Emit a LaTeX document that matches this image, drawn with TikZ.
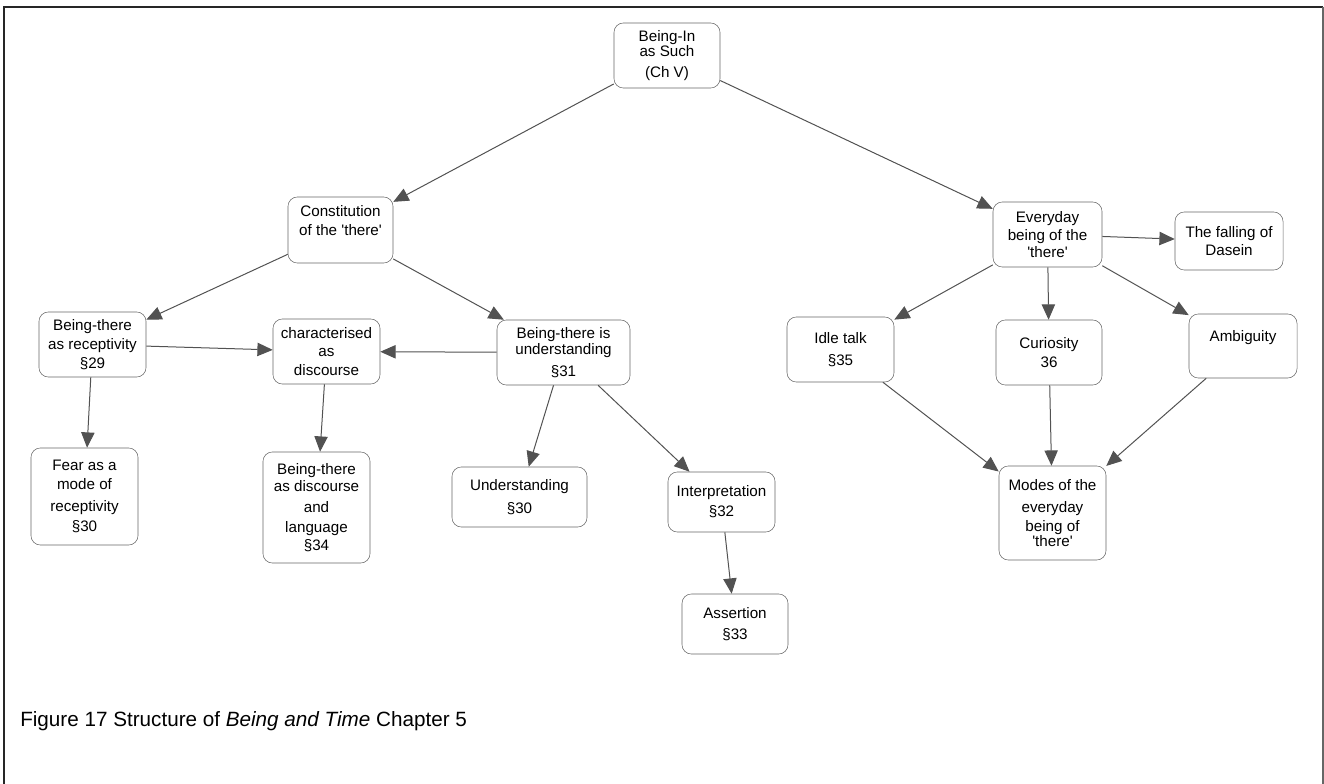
\documentclass[tikz,border=0pt]{standalone}
\usepackage{fontspec}
\setmainfont{Liberation Sans}
\usetikzlibrary{arrows.meta,positioning}
\newcommand{\apo}{\textquotesingle}
\tikzset{
  box/.style={draw=black!60,rounded corners=7pt,align=center,inner sep=0pt,
    minimum width=80.25pt,minimum height=48.75pt,font=\fontsize{11.4}{14.5}\selectfont},
  arr/.style={draw=black!68,line width=0.75pt,-{Triangle[length=11.5pt,width=10pt]}},
}

\begin{document}
\begin{tikzpicture}[x=0.75pt,y=-0.75pt]
  \useasboundingbox (0,0) rectangle (1324,784);
  \draw[line width=1.5pt,black!85] (4,790) -- (4,7) -- (1323,7);
  \draw[line width=1.2pt,black!60] (1323,7) -- (1323,790);

  \node[box,minimum width=79.5pt] (root) at (667,55.5) {Being-In\\[-3.25pt]as Such\\[1.25pt](Ch V)};
  \node[box,minimum width=78.75pt,minimum height=49.5pt] (const) at (340.5,230) {Constitution\\of the \apo there\apo\\\mbox{}};
  \node[box,minimum width=81.75pt] (every) at (1047.5,234.5) {Everyday\\[-1pt]being of the\\[-1.7pt]\apo there\apo};
  \node[box,minimum width=81pt,minimum height=43.5pt] (fall) at (1229,241) {The falling of\\[-1pt]Dasein};

  \node[box] (recep) at (92.5,344.5) {Being-there\\as receptivity\\§29};
  \node[box] (disc) at (326.5,351.5) {characterised\\[-1pt]as\\discourse};
  \node[box,minimum width=99.75pt] (und) at (563.5,352.5) {Being-there is\\[-2.5pt]understanding\\[2pt]§31};
  \node[box] (idle) at (840.5,349.5) {Idle talk\\[2.5pt]§35};
  \node[box,minimum width=79.5pt] (cur) at (1049,352.5) {Curiosity\\36};
  \node[box,minimum width=81pt,minimum height=48pt] (amb) at (1243,346) {Ambiguity\\\mbox{}};

  \node[box,minimum height=72.75pt] (fear) at (84.5,496.5) {Fear as a\\mode of\\[1.5pt]receptivity\\[1pt]§30};
  \node[box,minimum height=83.25pt] (lang) at (316.5,507.5) {Being-there\\[-1.5pt]as discourse\\[1pt]and\\[1pt]language\\[-1pt]§34};
  \node[box,minimum width=101.25pt,minimum height=45pt] (und30) at (519.5,497) {Understanding\\[2.75pt]§30};
  \node[box,minimum height=45pt] (interp) at (721.5,502) {Interpretation\\[0.5pt]§32};
  \node[box,minimum width=79.5pt,minimum height=45pt] (assert) at (735,624) {Assertion\\[1.5pt]§33};
  \node[box,minimum height=70.5pt] (modes) at (1052.5,513) {Modes of the\\[2pt]everyday\\[-0.5pt]being of\\[-3pt]\apo there\apo};

  \draw[arr] (root) -- (const);
  \draw[arr] (root) -- (every);
  \draw[arr] (const) -- (recep);
  \draw[arr] (const) -- (und);
  \draw[arr] (recep) -- (disc);
  \draw[arr] (und) -- (disc);
  \draw[arr] (recep) -- (fear);
  \draw[arr] (disc) -- (lang);
  \draw[arr] (und) -- (und30);
  \draw[arr] (und) -- (interp);
  \draw[arr] (interp) -- (assert);
  \draw[arr] (every) -- (fall);
  \draw[arr] (every) -- (idle);
  \draw[arr] (every) -- (cur);
  \draw[arr] (every) -- (amb);
  \draw[arr] (idle) -- (modes);
  \draw[arr] (cur) -- (modes);
  \draw[arr] (amb) -- (modes);

  \node[anchor=base west,inner sep=0pt,font=\fontsize{15.5}{18}\selectfont] (cap) at (20,726)
    {Figure 17 Structure of \textit{Being and Time} Chapter 5};
\end{tikzpicture}
\end{document}
